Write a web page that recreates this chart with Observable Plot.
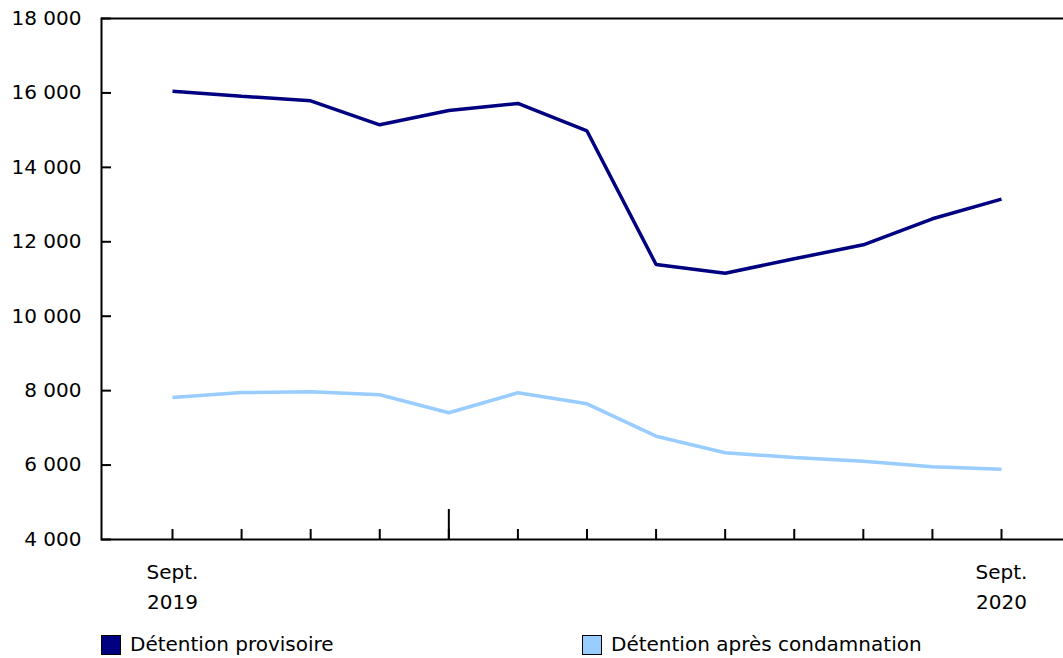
<!DOCTYPE html>
<html>
<head>
<meta charset="utf-8">
<script src="https://cdn.jsdelivr.net/npm/d3@7"></script>
<script src="https://cdn.jsdelivr.net/npm/@observablehq/plot@0.6"></script>
<style>
  body { margin: 0; background: #fff; font-family: "DejaVu Sans", Verdana, sans-serif; overflow: hidden; }
  #legend { position: relative; height: 24px; font-size: 20px; line-height: 23px; color: #000; }
  .item { position: absolute; top: -1px; display: flex; align-items: center; white-space: nowrap; }
  .sw { width: 20px; height: 20px; border: 1px solid #000; margin-right: 9px; box-sizing: border-box; }
</style>
</head>
<body>
<div id="chart"></div>
<div id="legend"></div>
<script>
const months = ["Sept. 2019","Oct. 2019","Nov. 2019","Dec. 2019","Jan. 2020","Feb. 2020","Mar. 2020","Apr. 2020","May 2020","June 2020","July 2020","Aug. 2020","Sept. 2020"];
const provisoire = [16046, 15912, 15788, 15144, 15528, 15716, 14977, 11389, 11156, 11543, 11919, 12618, 13145];
const apres = [7814, 7949, 7968, 7888, 7405, 7942, 7646, 6776, 6330, 6203, 6104, 5953, 5888];
const seriesNames = ["Détention provisoire", "Détention après condamnation"];
const seriesColors = ["#000080", "#99ccff"];
const yTicks = [4000, 6000, 8000, 10000, 12000, 14000, 16000, 18000];
const xTickLabels = ["Sept.\n2019","","","","","","","","","","","","Sept.\n2020"];
const yearBoundary = [4];

const rows = [];
months.forEach((m, i) => {
  rows.push({i, month: m, series: seriesNames[0], value: provisoire[i]});
  rows.push({i, month: m, series: seriesNames[1], value: apres[i]});
});
const idx = months.map((_, i) => i);
const fmt = v => d3.format(",")(v).replace(/,/g, " ");

const chart = Plot.plot({
  width: 1063,
  height: 634,
  marginLeft: 101,
  marginTop: 18,
  marginRight: 0,
  marginBottom: 95,
  style: { fontFamily: "DejaVu Sans, Verdana, sans-serif", fontSize: "20px", color: "#000", background: "#fff" },
  x: { type: "linear", domain: [0, 12], range: [172, 1001] },
  y: { domain: [4000, 18000] },
  color: { domain: seriesNames, range: seriesColors },
  marks: [
    Plot.frame({ stroke: "#000", strokeWidth: 2, insetRight: -6 }),
    Plot.axisY({ ticks: yTicks, tickFormat: fmt, tickSize: -10, tickPadding: 30, strokeWidth: 2, label: null }),
    Plot.axisX({ ticks: idx, tickFormat: i => xTickLabels[i], tickSize: -10, tickPadding: 28, lineHeight: 1.5, strokeWidth: 2, label: null }),
    Plot.axisX({ ticks: yearBoundary, tickFormat: () => "", tickSize: -30, strokeWidth: 2, label: null }),
    Plot.line(rows, { x: "i", y: "value", z: "series", stroke: "series", strokeWidth: 3.5, strokeLinejoin: "miter", strokeLinecap: "butt" })
  ]
});
document.getElementById("chart").appendChild(chart);

const legend = document.getElementById("legend");
const lefts = [101, 582];
seriesNames.forEach((n, k) => {
  const d = document.createElement("div");
  d.className = "item";
  d.style.left = lefts[k] + "px";
  d.innerHTML = `<span class="sw" style="background:${seriesColors[k]}"></span><span>${n}</span>`;
  legend.appendChild(d);
});
</script>
</body>
</html>
